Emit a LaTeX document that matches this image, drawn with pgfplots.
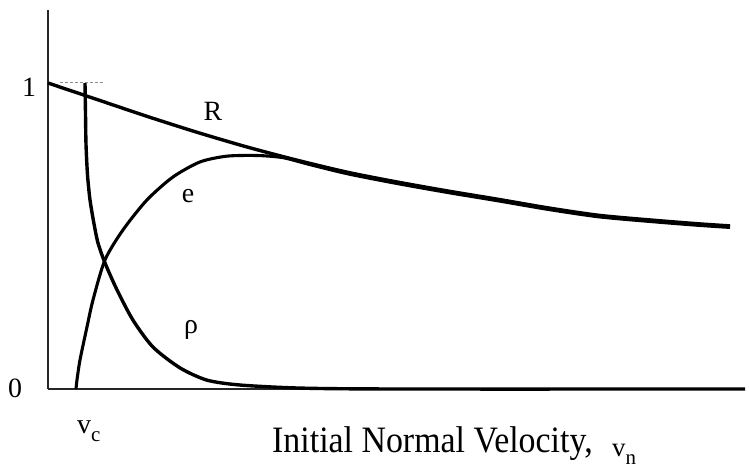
\documentclass[border=0pt]{standalone}
\usepackage{fontspec}
\setmainfont{Liberation Serif}
\usepackage{pgfplots}
\pgfplotsset{compat=1.18}

\begin{document}
\begin{tikzpicture}
% page = 749 x 468 px, 1 px = 1 bp; origin at the axis corner
\useasboundingbox (-48bp,-79bp) rectangle (701bp,389bp);
\begin{axis}[
  scale only axis,
  width=697bp, height=379bp,
  xmin=0, xmax=6.97,
  ymin=0, ymax=1.2386,
  axis lines=left,
  axis line style={-, line width=1.6bp, black!85},
  xtick=\empty, ytick=\empty,
  clip=false,
  curve/.style={line width=3.4bp, black, no markers, smooth, tension=0.45},
  font=\fontsize{28}{32}\selectfont,
]
% R
\addplot[curve] coordinates {
  (0,1.0) (0.5,0.945) (1.0,0.89) (1.5,0.838) (2.0,0.79) (2.5,0.747)
  (3.0,0.708) (3.5,0.676) (4.0,0.647) (4.5,0.620) (5.0,0.592)
  (5.5,0.568) (6.0,0.553) (6.5,0.540) (6.82,0.533)
};
% e
\addplot[curve, line width=3.1bp] coordinates {
  (0.28,0) (0.29,0.03) (0.32,0.095) (0.39,0.203) (0.45,0.291)
  (0.57,0.422) (0.75,0.520) (0.99,0.618) (1.25,0.693) (1.52,0.742)
  (1.79,0.761) (2.10,0.763) (2.35,0.756) (2.6,0.735) (3.0,0.703)
  (3.5,0.671) (4.0,0.642) (4.5,0.615) (5.0,0.587) (5.5,0.563)
  (6.0,0.548) (6.5,0.535) (6.82,0.528)
};
% rho
\addplot[curve] coordinates {
  (0.37,1.0) (0.375,0.9) (0.38,0.8) (0.395,0.70) (0.42,0.618)
  (0.46,0.54) (0.50,0.477) (0.57,0.412) (0.69,0.324) (0.85,0.225)
  (1.05,0.137) (1.32,0.069) (1.59,0.029) (1.92,0.013) (2.52,0.003)
  (3.5,0.0) (6.97,0)
};
% faint level mark at 1
\addplot[line width=0.8bp, black!45, dash pattern=on 3bp off 2bp, no markers]
  coordinates {(0.12,1.003) (0.55,1.003)};

\node at (axis cs:1.65,0.908) {R};
\node at (axis cs:1.40,0.631) {e};
\node at (axis cs:1.43,0.193) {ρ};
\node at (axis cs:-0.19,0.987) {1};
\node at (axis cs:-0.33,0.003) {0};
\node[anchor=base west, inner sep=0pt] at (axis cs:0.29,-0.144)
  {v\raisebox{-8bp}{\fontsize{21}{24}\selectfont c}};
\node[anchor=base west, inner sep=0pt, yscale=1.1]
  at (axis cs:2.24,-0.206) {\fontsize{34}{38}\selectfont Initial Normal Velocity,};
\node[anchor=base west, inner sep=0pt]
  at (axis cs:5.64,-0.222) {\fontsize{27}{30}\selectfont v\raisebox{-8bp}{\fontsize{21}{24}\selectfont n}};
\end{axis}
\end{tikzpicture}
\end{document}
